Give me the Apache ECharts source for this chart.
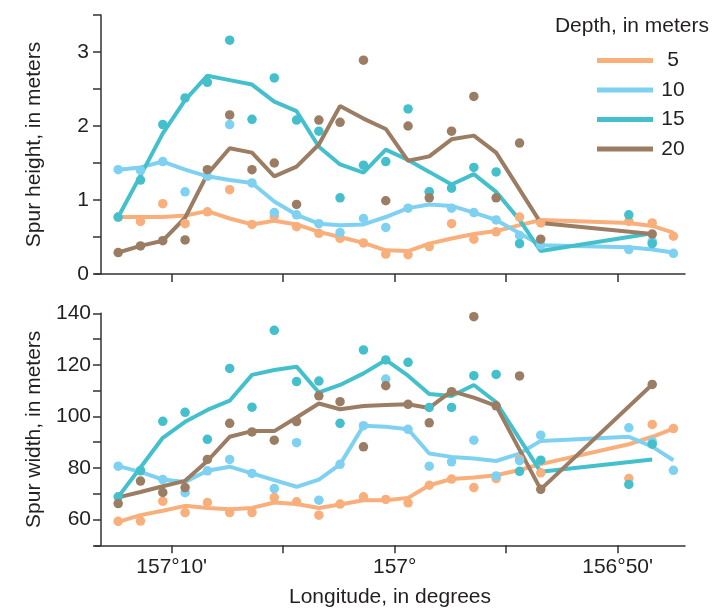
<!DOCTYPE html>
<html>
<head>
<meta charset="utf-8">
<script src="https://cdn.jsdelivr.net/npm/echarts@6/dist/echarts.min.js"></script>
<style>html,body{margin:0;padding:0;background:#fff}#c{width:716px;height:611px}</style>
</head>
<body>
<div id="c"></div>
<script>
// Longitude of each sample, in minutes west of 156° (72.4 = 157°12.4')
const lonMinutes = [72.4, 71.4, 70.4, 69.4, 68.4, 67.4, 66.4, 65.4, 64.4, 63.4, 62.45, 61.4, 60.4, 59.4, 58.45, 57.45, 56.45, 55.45, 54.4, 53.45, 49.5, 48.45, 47.5];
const depths = ['5', '10', '15', '20'];
const tickValues = [70, 60, 50];
const tickLabels = ["157°10'", "157°", "156°50'"];
const tickMarks = [70, 65, 60, 55, 50];

// Spur height (m): points and smoothed line
const h5pts  = [0.77,0.71,0.95,0.68,0.84,1.14,0.67,0.78,0.64,0.55,0.48,0.42,0.27,0.26,0.37,0.68,0.47,0.57,0.77,0.69,0.71,0.69,0.51];
const h5line = [0.77,0.77,0.77,0.79,0.85,0.75,0.67,0.72,0.67,0.57,0.50,0.42,0.32,0.31,0.41,0.48,0.54,0.58,0.66,0.73,0.69,0.65,0.56];
const h10pts  = [1.41,1.40,1.52,1.11,1.32,2.02,1.23,0.83,0.80,0.68,0.56,0.75,0.63,0.89,1.11,0.89,0.83,0.73,0.52,0.39,0.33,0.44,0.28];
const h10line = [1.41,1.44,1.52,1.41,1.32,1.27,1.23,0.98,0.80,0.68,0.66,0.67,0.77,0.89,0.94,0.92,0.83,0.73,0.55,0.39,0.36,0.33,0.29];
const h15pts  = [0.77,1.27,2.02,2.38,2.59,3.16,2.09,2.65,2.08,1.93,1.03,1.47,1.52,2.23,1.11,1.16,1.44,1.38,0.41,null,0.80,0.41,null];
const h15line = [0.77,1.33,1.90,2.35,2.68,2.62,2.56,2.33,2.20,1.72,1.48,1.37,1.68,1.54,1.38,1.21,1.35,1.11,0.73,0.31,null,0.55,null];
const h20pts  = [0.29,0.38,0.45,0.46,1.41,2.15,1.41,1.50,0.94,2.08,2.05,2.89,0.99,2.00,1.03,1.93,2.40,1.03,1.77,0.47,null,0.54,null];
const h20line = [0.29,0.38,0.45,0.76,1.35,1.70,1.64,1.32,1.45,1.75,2.27,2.10,1.96,1.53,1.59,1.82,1.87,1.64,null,0.69,null,0.54,null];

// Spur width (m): points and smoothed line
const w5pts  = [59.3,59.4,67.1,62.7,66.6,62.7,62.7,68.5,66.9,61.7,66.0,68.8,67.8,66.5,73.3,75.7,72.4,75.9,83.4,78.1,75.9,96.9,95.3];
const w5line = [59.1,61.7,63.4,65.3,64.5,64.0,64.5,66.6,66.0,64.5,65.8,67.5,67.5,68.4,73.3,75.7,76.3,77.2,79.2,81.5,89.2,92.1,95.3];
const w10pts  = [80.7,78.9,75.5,70.4,78.9,83.3,77.9,72.0,89.8,67.5,81.4,96.4,114.5,95.0,80.7,82.4,90.8,76.9,82.8,92.7,95.6,90.2,79.1];
const w10line = [80.7,78.5,75.5,74.6,78.9,80.5,77.9,75.3,72.7,75.5,81.4,96.4,96.0,95.0,85.6,84.3,83.7,82.7,85.6,90.5,92.1,88.3,83.0];
const w15pts  = [68.8,79.0,98.1,101.6,91.1,118.6,103.6,133.4,113.5,113.7,97.3,125.8,121.9,121.0,103.5,103.5,115.8,116.3,78.7,83.0,73.6,89.2,null];
const w15line = [68.8,80.2,91.7,97.9,102.5,106.1,116.1,118.0,119.3,109.3,112.2,116.7,121.9,115.8,108.7,107.9,112.2,105.5,null,78.5,null,83.3,null];
const w20pts  = [66.2,74.9,70.5,72.4,83.3,97.3,94.0,90.8,98.0,108.0,105.7,88.2,111.9,104.7,97.5,109.6,138.7,104.1,115.7,71.7,null,112.4,null];
const w20line = [68.6,70.7,72.9,75.0,82.7,92.1,94.3,94.3,99.6,105.0,102.8,104.0,104.4,104.7,103.3,109.8,107.3,104.1,null,71.7,null,112.4,null];

const colors = ['#F9AF7C', '#7FD1F1', '#44C0CC', '#9B7D64'];
const FONT = 'Liberation Sans, Arial, Helvetica, sans-serif';
const TXT = '#231f20';
const AX = '#333333';
const FS = 21;

function pairs(vals) {
  const out = [];
  vals.forEach((v, i) => { if (v !== null) out.push([lonMinutes[i], v]); });
  return out;
}

const heightPts = [h5pts, h10pts, h15pts, h20pts];
const heightLines = [h5line, h10line, h15line, h20line];
const widthPts = [w5pts, w10pts, w15pts, w20pts];
const widthLines = [w5line, w10line, w15line, w20line];

const series = [];
[[heightLines, heightPts, 0], [widthLines, widthPts, 1]].forEach(([lines, pts, g]) => {
  depths.forEach((d, k) => {
    series.push({
      name: d, type: 'line', xAxisIndex: g, yAxisIndex: g,
      data: pairs(lines[k]), showSymbol: false, symbol: 'none', connectNulls: true,
      lineStyle: { color: colors[k], width: 4 }, itemStyle: { color: colors[k] },
      z: 2, silent: true, animation: false
    });
  });
  depths.forEach((d, k) => {
    series.push({
      name: d, type: 'scatter', xAxisIndex: g, yAxisIndex: g,
      data: pairs(pts[k]), symbolSize: 9.5,
      itemStyle: { color: colors[k], opacity: 1 }, z: 3, silent: true, animation: false
    });
  });
});

const xBase = {
  type: 'value', inverse: true, min: 46.98, max: 73.44,
  axisLine: { show: true, lineStyle: { color: AX, width: 1.5 } },
  axisTick: { show: true, length: 8, customValues: tickMarks, lineStyle: { color: AX, width: 1.5 } },
  splitLine: { show: false }
};

const chart = echarts.init(document.getElementById('c'), null, { renderer: 'canvas' });
chart.setOption({
  animation: false,
  backgroundColor: '#fff',
  textStyle: { fontFamily: FONT, color: TXT },
  title: {
    text: 'Depth, in meters', right: 2, top: 11,
    textStyle: { fontFamily: FONT, fontSize: FS, fontWeight: 'normal', color: TXT }
  },
  legend: {
    data: depths.map(d => ({ name: d, icon: 'rect' })),
    orient: 'vertical', left: 592, top: 45,
    itemWidth: 56, itemHeight: 5, itemGap: 8.5,
    selectedMode: false,
    formatter: '{a|{name}}',
    textStyle: {
      fontFamily: FONT, fontSize: FS, color: TXT,
      rich: { a: { width: 30, align: 'center', fontSize: FS, fontFamily: FONT, color: TXT, lineHeight: 20 } }
    }
  },
  grid: [
    { left: 95, right: 31, top: 15, height: 259 },
    { left: 95, right: 31, top: 313.3, height: 232 }
  ],
  xAxis: [
    Object.assign({}, xBase, { gridIndex: 0, axisLabel: { show: false } }),
    Object.assign({}, xBase, {
      gridIndex: 1,
      name: 'Longitude, in degrees', nameLocation: 'middle', nameGap: 41,
      nameTextStyle: { fontFamily: FONT, fontSize: FS, color: TXT },
      axisLabel: {
        show: true, customValues: tickValues, margin: 11,
        fontFamily: FONT, fontSize: FS, color: TXT,
        formatter: v => tickLabels[tickValues.indexOf(Math.round(v))] || ''
      }
    })
  ],
  yAxis: [
    {
      gridIndex: 0, type: 'value', min: 0, max: 3.5, interval: 0.5, offset: -6,
      name: 'Spur height, in meters', nameLocation: 'middle', nameGap: 56,
      nameTextStyle: { fontFamily: FONT, fontSize: FS, color: TXT },
      axisLine: { show: true, lineStyle: { color: AX, width: 1.5 } },
      axisTick: { show: true, length: 8, lineStyle: { color: AX, width: 1.5 } },
      axisLabel: {
        margin: 12, fontFamily: FONT, fontSize: FS, color: TXT,
        formatter: v => (Math.abs(v - Math.round(v)) < 1e-6 && v <= 3) ? String(Math.round(v)) : ''
      },
      splitLine: { show: false }
    },
    {
      gridIndex: 1, type: 'value', min: 50, max: 140, interval: 10, offset: -6,
      name: 'Spur width, in meters', nameLocation: 'middle', nameGap: 56,
      nameTextStyle: { fontFamily: FONT, fontSize: FS, color: TXT },
      axisLine: { show: true, lineStyle: { color: AX, width: 1.5 } },
      axisTick: { show: true, length: 8, lineStyle: { color: AX, width: 1.5 } },
      axisLabel: {
        margin: 10, fontFamily: FONT, fontSize: FS, color: TXT,
        formatter: v => (v % 20 === 0 && v >= 60) ? String(v) : ''
      },
      splitLine: { show: false }
    }
  ],
  series: series
});
</script>
</body>
</html>
